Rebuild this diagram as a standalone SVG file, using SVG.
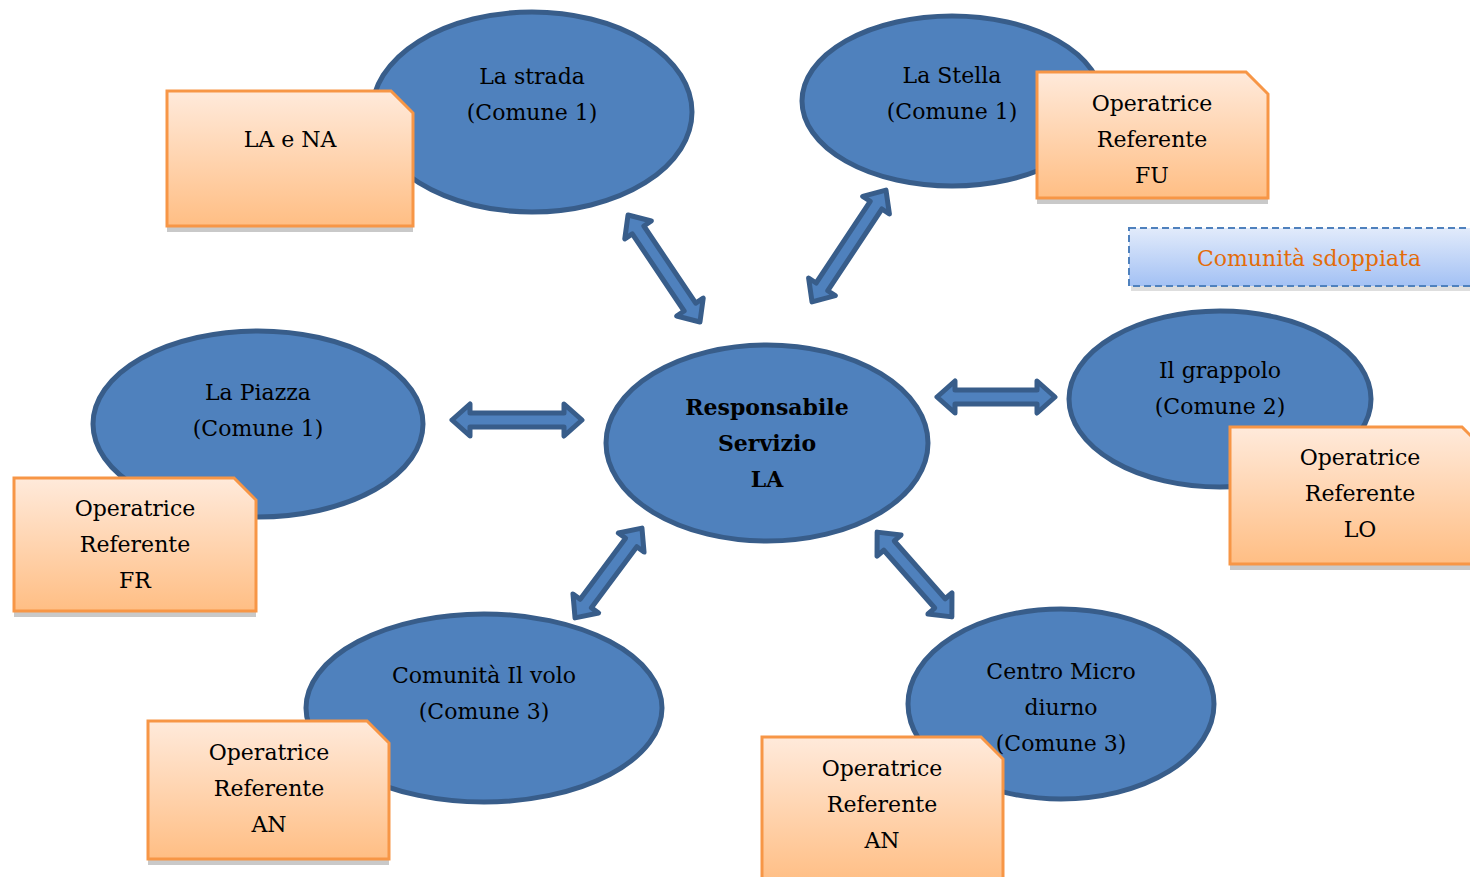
<svg xmlns="http://www.w3.org/2000/svg" width="1470" height="877" viewBox="0 0 1470 877">
<defs>
<linearGradient id="og" x1="0" y1="0" x2="0" y2="1"><stop offset="0" stop-color="#FFEADB"/><stop offset="1" stop-color="#FFBE84"/></linearGradient>
<linearGradient id="bg" x1="0" y1="0" x2="0" y2="1"><stop offset="0" stop-color="#E2EBFB"/><stop offset="1" stop-color="#A3C1F4"/></linearGradient>
<style>
.ell{fill:#4F81BD;stroke:#385D8A;stroke-width:5}
.note{fill:url(#og);stroke:#F79646;stroke-width:3}
.sh{fill:#C9C9C9}
.arr{fill:#4F81BD;stroke:#385D8A;stroke-width:5;stroke-linejoin:round}
text{font-family:"DejaVu Serif","Liberation Serif",serif;font-size:22px;fill:#000;text-anchor:middle}
.b{font-weight:bold}
.o{fill:#E36C0A}
</style>
</defs>
<rect width="1470" height="877" fill="#fff"/>
<g id="connectors">
<path class="arr" transform="translate(664,268.5) rotate(56.1)" d="M-64.5 0 L-46.5 -16 L-46.5 -7 L46.5 -7 L46.5 -16 L64.5 0 L46.5 16 L46.5 7 L-46.5 7 L-46.5 16 Z"/>
<path class="arr" transform="translate(849,246) rotate(123.5)" d="M-67 0 L-49 -16 L-49 -7 L49 -7 L49 -16 L67 0 L49 16 L49 7 L-49 7 L-49 16 Z"/>
<path class="arr" transform="translate(517,420)" d="M-65 0 L-47 -16 L-47 -7 L47 -7 L47 -16 L65 0 L47 16 L47 7 L-47 7 L-47 16 Z"/>
<path class="arr" transform="translate(996,397)" d="M-59 0 L-41 -16 L-41 -7 L41 -7 L41 -16 L59 0 L41 16 L41 7 L-41 7 L-41 16 Z"/>
<path class="arr" transform="translate(608.5,573) rotate(126.7)" d="M-56 0 L-38 -16 L-38 -7 L38 -7 L38 -16 L56 0 L38 16 L38 7 L-38 7 L-38 16 Z"/>
<path class="arr" transform="translate(914.5,574.5) rotate(48.6)" d="M-56.5 0 L-38.5 -16 L-38.5 -7 L38.5 -7 L38.5 -16 L56.5 0 L38.5 16 L38.5 7 L-38.5 7 L-38.5 16 Z"/>
</g>
<g id="center">
<ellipse class="ell" cx="767" cy="443" rx="161" ry="98"/>
<text class="b" x="767" y="415">Responsabile</text>
<text class="b" x="767" y="451">Servizio</text>
<text class="b" x="767" y="487">LA</text>
</g>
<g id="strada">
<ellipse class="ell" cx="532" cy="112" rx="160" ry="100"/>
<text x="532" y="84">La strada</text>
<text x="532" y="120">(Comune 1)</text>
</g>
<g id="note-lana">
<path class="sh" d="M167 97 H391 L413 119 V232 H167 Z"/>
<path class="note" d="M167 91 H391 L413 113 V226 H167 Z"/>
<text x="290" y="147">LA e NA</text>
</g>
<g id="stella">
<ellipse class="ell" cx="952" cy="101" rx="150" ry="85"/>
<text x="952" y="83">La Stella</text>
<text x="952" y="119">(Comune 1)</text>
</g>
<g id="note-fu">
<path class="sh" d="M1037 78 H1246 L1268 100 V204 H1037 Z"/>
<path class="note" d="M1037 72 H1246 L1268 94 V198 H1037 Z"/>
<text x="1152" y="111">Operatrice</text>
<text x="1152" y="147">Referente</text>
<text x="1152" y="183">FU</text>
</g>
<g id="sdoppiata">
<rect x="1131" y="233" width="345" height="58" fill="#D0D0D0" opacity="0.7"/>
<rect x="1129" y="228" width="345" height="58" fill="url(#bg)" stroke="#4F81BD" stroke-width="2" stroke-dasharray="7,4"/>
<text class="o" x="1309" y="266">Comunità sdoppiata</text>
</g>
<g id="piazza">
<ellipse class="ell" cx="258" cy="424" rx="165" ry="93"/>
<text x="258" y="400">La Piazza</text>
<text x="258" y="436">(Comune 1)</text>
</g>
<g id="note-fr">
<path class="sh" d="M14 484 H234 L256 506 V617 H14 Z"/>
<path class="note" d="M14 478 H234 L256 500 V611 H14 Z"/>
<text x="135" y="516">Operatrice</text>
<text x="135" y="552">Referente</text>
<text x="135" y="588">FR</text>
</g>
<g id="grappolo">
<ellipse class="ell" cx="1220" cy="399" rx="151" ry="88"/>
<text x="1220" y="378">Il grappolo</text>
<text x="1220" y="414">(Comune 2)</text>
</g>
<g id="note-lo">
<path class="sh" d="M1230 433 H1462 L1484 455 V570 H1230 Z"/>
<path class="note" d="M1230 427 H1462 L1484 449 V564 H1230 Z"/>
<text x="1360" y="465">Operatrice</text>
<text x="1360" y="501">Referente</text>
<text x="1360" y="537">LO</text>
</g>
<g id="volo">
<ellipse class="ell" cx="484" cy="708" rx="178" ry="94"/>
<text x="484" y="683">Comunità Il volo</text>
<text x="484" y="719">(Comune 3)</text>
</g>
<g id="note-an1">
<path class="sh" d="M148 727 H367 L389 749 V865 H148 Z"/>
<path class="note" d="M148 721 H367 L389 743 V859 H148 Z"/>
<text x="269" y="760">Operatrice</text>
<text x="269" y="796">Referente</text>
<text x="269" y="832">AN</text>
</g>
<g id="micro">
<ellipse class="ell" cx="1061" cy="704" rx="153" ry="95"/>
<text x="1061" y="679">Centro Micro</text>
<text x="1061" y="715">diurno</text>
<text x="1061" y="751">(Comune 3)</text>
</g>
<g id="note-an2">
<path class="sh" d="M762 743 H981 L1003 765 V890 H762 Z"/>
<path class="note" d="M762 737 H981 L1003 759 V884 H762 Z"/>
<text x="882" y="776">Operatrice</text>
<text x="882" y="812">Referente</text>
<text x="882" y="848">AN</text>
</g>
</svg>
